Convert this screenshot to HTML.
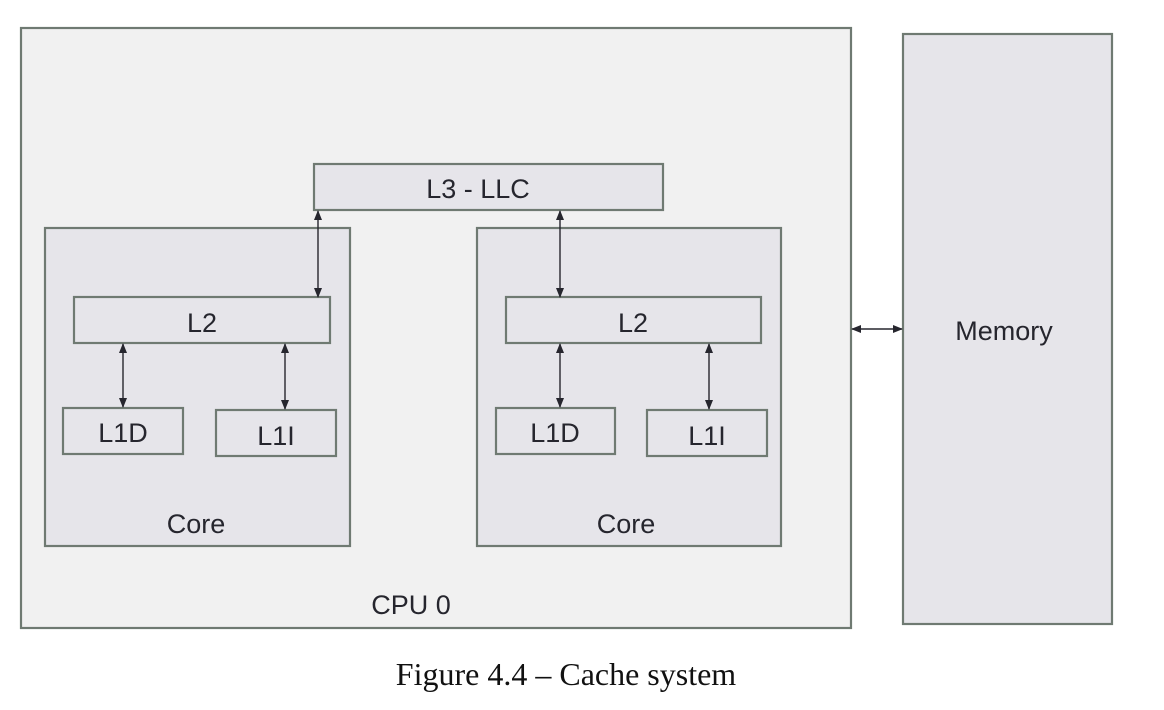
<!DOCTYPE html>
<html><head><meta charset="utf-8"><style>
html,body{margin:0;padding:0;background:#fff;}
svg{display:block;}
text{font-family:"Liberation Sans",Arial,sans-serif;fill:#26262e;}
</style></head><body>
<svg width="1164" height="710" viewBox="0 0 1164 710" xmlns="http://www.w3.org/2000/svg">
<defs>
<marker id="a" markerWidth="10" markerHeight="10" refX="9" refY="5" orient="auto-start-reverse" markerUnits="userSpaceOnUse">
<path d="M0,1 L10,5 L0,9 z" fill="#26262e"/>
</marker>
</defs>
<g stroke="#6f7a72" stroke-width="2.2">
<rect x="21" y="28" width="830" height="600" fill="#f1f1f1"/>
<rect x="903" y="34" width="209" height="590" fill="#e6e5ea"/>
<rect x="314" y="164" width="349" height="46" fill="#e6e5ea"/>
<rect x="45" y="228" width="305" height="318" fill="#e6e5ea"/>
<rect x="477" y="228" width="304" height="318" fill="#e6e5ea"/>
<rect x="74" y="297" width="256" height="46" fill="#e6e5ea"/>
<rect x="506" y="297" width="255" height="46" fill="#e6e5ea"/>
<rect x="63" y="408" width="120" height="46" fill="#e6e5ea"/>
<rect x="216" y="410" width="120" height="46" fill="#e6e5ea"/>
<rect x="496" y="408" width="119" height="46" fill="#e6e5ea"/>
<rect x="647" y="410" width="120" height="46" fill="#e6e5ea"/>
</g>
<g stroke="#26262e" stroke-width="1.4" marker-start="url(#a)" marker-end="url(#a)">
<line x1="318" y1="211" x2="318" y2="297"/>
<line x1="560" y1="211" x2="560" y2="297"/>
<line x1="123" y1="344" x2="123" y2="407"/>
<line x1="285" y1="344" x2="285" y2="409"/>
<line x1="560" y1="344" x2="560" y2="407"/>
<line x1="709" y1="344" x2="709" y2="409"/>
<line x1="852" y1="329" x2="902" y2="329"/>
</g>
<g font-size="27" text-anchor="middle">
<text x="478" y="198">L3 - LLC</text>
<text x="202" y="332">L2</text>
<text x="633" y="332">L2</text>
<text x="123" y="442">L1D</text>
<text x="276" y="445">L1I</text>
<text x="555" y="442">L1D</text>
<text x="707" y="445">L1I</text>
<text x="196" y="533">Core</text>
<text x="626" y="533">Core</text>
<text x="411" y="614">CPU 0</text>
<text x="1004" y="340">Memory</text>
</g>
<text x="566" y="685" text-anchor="middle" font-size="32" style="font-family:'Liberation Serif',serif;fill:#111;">Figure 4.4 – Cache system</text>
</svg>
</body></html>
